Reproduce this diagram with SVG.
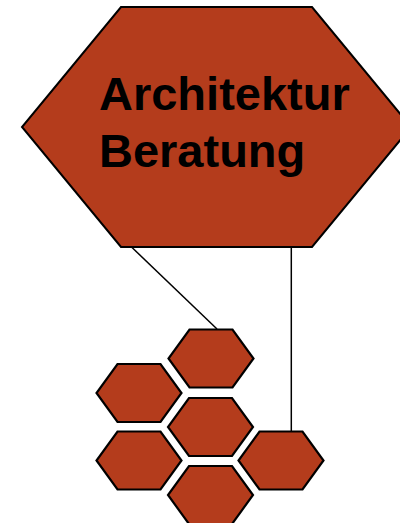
<svg xmlns="http://www.w3.org/2000/svg" xmlns:xlink="http://www.w3.org/1999/xlink" width="400" height="523" viewBox="0 0 400 523">
<style>
.hex{fill:#B43C1C;stroke:#000;stroke-width:2.2;stroke-linejoin:miter}
.big{fill:#B43C1C;stroke:#000;stroke-width:2}
.lbl{font-family:"Liberation Sans",Arial,sans-serif;font-weight:bold;font-size:47px;fill:#000}
.conn{stroke:#000;stroke-width:1.5;fill:none}
</style>
<defs>
<polygon id="h" class="hex" points="-21.5,-29 21.5,-29 42.5,0 21.5,29 -21.5,29 -42.5,0"/>
</defs>
<rect width="400" height="523" fill="#fff"/>
<g id="connectors">
<line class="conn" x1="131.5" y1="247" x2="217" y2="329"/>
<line class="conn" x1="291.3" y1="247" x2="291.3" y2="431" stroke="#333"/>
</g>
<g id="main">
<polygon class="big" points="121,7 312,7 411,127 312,247 121,247 22,127"/>
<text class="lbl" x="99" y="110">Architektur</text>
<text class="lbl" x="99" y="167">Beratung</text>
</g>
<g id="hex1"><use xlink:href="#h" href="#h" transform="translate(211,358.5)"/></g>
<g id="hex2"><use xlink:href="#h" href="#h" transform="translate(139,393)"/></g>
<g id="hex3"><use xlink:href="#h" href="#h" transform="translate(210.5,427)"/></g>
<g id="hex4"><use xlink:href="#h" href="#h" transform="translate(139,460.5)"/></g>
<g id="hex5"><use xlink:href="#h" href="#h" transform="translate(281,460.5)"/></g>
<g id="hex6"><use xlink:href="#h" href="#h" transform="translate(210.5,495)"/></g>
</svg>
